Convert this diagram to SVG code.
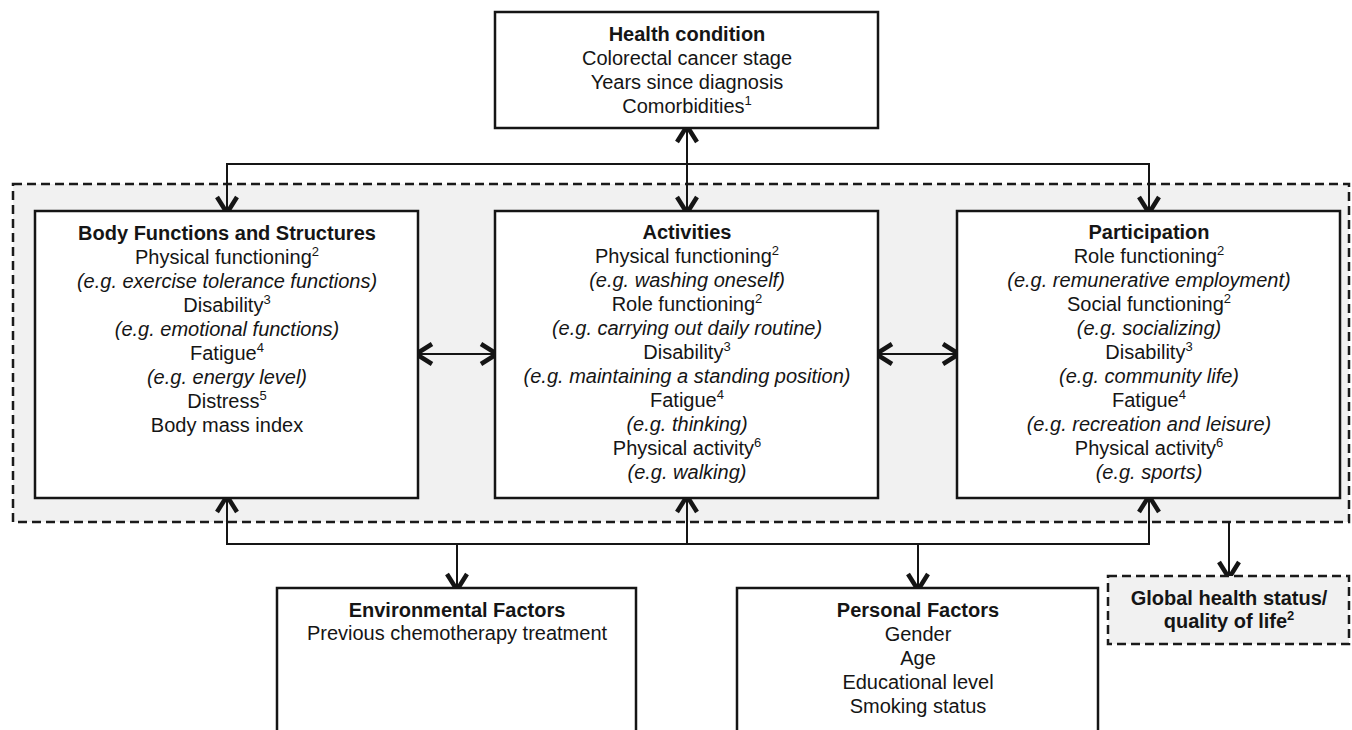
<svg xmlns="http://www.w3.org/2000/svg" width="1352" height="730" viewBox="0 0 1352 730">
<style>
text{font-family:"Liberation Sans",Arial,sans-serif;font-size:20px;fill:#151515;text-anchor:middle}
.b{font-weight:bold}
.i{font-style:italic}
.sup{font-size:13px}
.box{fill:#fff;stroke:#151515;stroke-width:2.5}
.region{fill:#f1f1f1;stroke:#1a1a1a;stroke-width:2.5;stroke-dasharray:9 5}
.dbox{fill:#f1f1f1;stroke:#1a1a1a;stroke-width:2.5;stroke-dasharray:9 5}
.con{fill:none;stroke:#151515;stroke-width:2}
.a2{marker-start:url(#ah);marker-end:url(#ah)}
.a1{marker-end:url(#ah)}
</style>
<defs>
<marker id="ah" viewBox="-22 -12 24 24" refX="-2" refY="0" markerWidth="24" markerHeight="24" markerUnits="userSpaceOnUse" orient="auto-start-reverse" overflow="visible">
<path d="M-16,-10 L0,0 L-16,10" fill="none" stroke="#151515" stroke-width="4.5" stroke-linejoin="miter" stroke-linecap="butt"/>
</marker>
</defs>

<rect id="icf-region" class="region" x="13" y="184" width="1336" height="338"/>

<g id="connectors">
<line class="con a2" x1="687" y1="128" x2="687" y2="211"/>
<path class="con a2" d="M227,211 V164 H1149 V211"/>
<line class="con a2" x1="418" y1="354" x2="495" y2="354"/>
<line class="con a2" x1="878" y1="354" x2="957" y2="354"/>
<path class="con a2" d="M227,498 V544 H1149 V498"/>
<line class="con a1" x1="687" y1="544" x2="687" y2="498"/>
<line class="con a1" x1="457" y1="544" x2="457" y2="588"/>
<line class="con a1" x1="918" y1="544" x2="918" y2="588"/>
<line class="con a1" x1="1229" y1="522" x2="1229" y2="576"/>
</g>

<g id="health-condition">
<rect class="box" x="495" y="12" width="383" height="116"/>
<text class="b" x="687" y="41">Health condition</text>
<text x="687" y="65">Colorectal cancer stage</text>
<text x="687" y="89">Years since diagnosis</text>
<text x="687" y="113">Comorbidities<tspan class="sup" dy="-8">1</tspan></text>
</g>

<g id="body-functions">
<rect class="box" x="35" y="211" width="383" height="287"/>
<text class="b" x="227" y="240">Body Functions and Structures</text>
<text x="227" y="264">Physical functioning<tspan class="sup" dy="-8">2</tspan></text>
<text class="i" x="227" y="288">(e.g. exercise tolerance functions)</text>
<text x="227" y="312">Disability<tspan class="sup" dy="-8">3</tspan></text>
<text class="i" x="227" y="336">(e.g. emotional functions)</text>
<text x="227" y="360">Fatigue<tspan class="sup" dy="-8">4</tspan></text>
<text class="i" x="227" y="384">(e.g. energy level)</text>
<text x="227" y="408">Distress<tspan class="sup" dy="-8">5</tspan></text>
<text x="227" y="432">Body mass index</text>
</g>

<g id="activities">
<rect class="box" x="495" y="211" width="383" height="287"/>
<text class="b" x="687" y="239">Activities</text>
<text x="687" y="263">Physical functioning<tspan class="sup" dy="-8">2</tspan></text>
<text class="i" x="687" y="287">(e.g. washing oneself)</text>
<text x="687" y="311">Role functioning<tspan class="sup" dy="-8">2</tspan></text>
<text class="i" x="687" y="335">(e.g. carrying out daily routine)</text>
<text x="687" y="359">Disability<tspan class="sup" dy="-8">3</tspan></text>
<text class="i" x="687" y="383">(e.g. maintaining a standing position)</text>
<text x="687" y="407">Fatigue<tspan class="sup" dy="-8">4</tspan></text>
<text class="i" x="687" y="431">(e.g. thinking)</text>
<text x="687" y="455">Physical activity<tspan class="sup" dy="-8">6</tspan></text>
<text class="i" x="687" y="479">(e.g. walking)</text>
</g>

<g id="participation">
<rect class="box" x="957" y="211" width="383" height="287"/>
<text class="b" x="1149" y="239">Participation</text>
<text x="1149" y="263">Role functioning<tspan class="sup" dy="-8">2</tspan></text>
<text class="i" x="1149" y="287">(e.g. remunerative employment)</text>
<text x="1149" y="311">Social functioning<tspan class="sup" dy="-8">2</tspan></text>
<text class="i" x="1149" y="335">(e.g. socializing)</text>
<text x="1149" y="359">Disability<tspan class="sup" dy="-8">3</tspan></text>
<text class="i" x="1149" y="383">(e.g. community life)</text>
<text x="1149" y="407">Fatigue<tspan class="sup" dy="-8">4</tspan></text>
<text class="i" x="1149" y="431">(e.g. recreation and leisure)</text>
<text x="1149" y="455">Physical activity<tspan class="sup" dy="-8">6</tspan></text>
<text class="i" x="1149" y="479">(e.g. sports)</text>
</g>

<g id="environmental-factors">
<rect class="box" x="277" y="588" width="359" height="160"/>
<text class="b" x="457" y="617">Environmental Factors</text>
<text x="457" y="640">Previous chemotherapy treatment</text>
</g>

<g id="personal-factors">
<rect class="box" x="737" y="588" width="361" height="160"/>
<text class="b" x="918" y="617">Personal Factors</text>
<text x="918" y="641">Gender</text>
<text x="918" y="665">Age</text>
<text x="918" y="689">Educational level</text>
<text x="918" y="713">Smoking status</text>
</g>

<g id="global-health">
<rect class="dbox" x="1108" y="576" width="241" height="68"/>
<text class="b" x="1229" y="605">Global health status/</text>
<text class="b" x="1229" y="628">quality of life<tspan class="sup" dy="-8">2</tspan></text>
</g>
</svg>
